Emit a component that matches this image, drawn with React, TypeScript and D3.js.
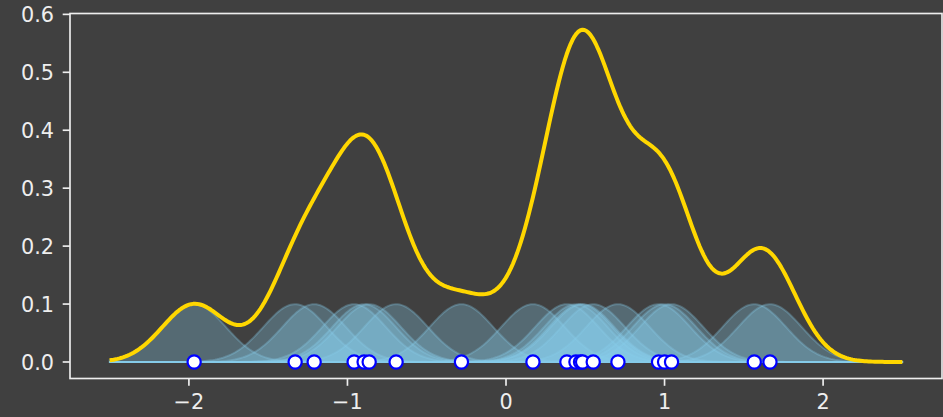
import React from 'react';
import * as d3 from 'd3';

const samples = [
  -1.967, -1.33, -1.21, -0.958, -0.895, -0.863, -0.693, -0.281, 0.17, 0.384,
  0.441, 0.47, 0.483, 0.55, 0.706, 0.962, 1.0, 1.044, 1.566, 1.665,
];
const bandwidth = 0.2;
const gridRange = [-2.5, 2.5];
const xTicks = [-2, -1, 0, 1, 2];
const yTicks = [0, 0.1, 0.2, 0.3, 0.4, 0.5, 0.6];

const W = 943;
const H = 417;
const margin = { top: 13.5, right: 1, bottom: 38.5, left: 70 };
const BG = '#404040';
const FG = '#eeeeee';
const FONT = 'DejaVu Sans, sans-serif';

const App = () => {
  const x = d3
    .scaleLinear()
    .domain([-2.75, 2.75])
    .range([margin.left, W - margin.right]);
  const y = d3
    .scaleLinear()
    .domain([-0.0285, 0.6015])
    .range([H - margin.bottom, margin.top]);

  const n = samples.length;
  const norm = 1 / (n * bandwidth * Math.sqrt(2 * Math.PI));
  const grid = d3.range(400).map(i => gridRange[0] + (i * (gridRange[1] - gridRange[0])) / 399);
  const kernel = (c: number, v: number) => norm * Math.exp(-((v - c) ** 2) / (2 * bandwidth * bandwidth));

  const area = d3
    .area<[number, number]>()
    .x(d => x(d[0]))
    .y0(y(0))
    .y1(d => y(d[1]));
  const line = d3
    .line<[number, number]>()
    .x(d => x(d[0]))
    .y(d => y(d[1]));

  const kde: [number, number][] = grid.map(g => [g, d3.sum(samples, s => kernel(s, g))]);

  const left = margin.left;
  const right = W - margin.right;
  const top = margin.top;
  const bottom = H - margin.bottom;
  const tickLen = 7.3;
  const sw = 1.67;
  const fmtX = (v: number) => (v < 0 ? '\u2212' + Math.abs(v) : String(v));

  return (
    <svg
      width={W}
      height={H}
      style={{ position: 'absolute', left: 0, top: 0, display: 'block' }}
      fontFamily={FONT}
    >
      <rect width={W} height={H} fill={BG} />

      {/* individual kernels */}
      {samples.map((s, i) => {
        const pts: [number, number][] = grid.map(g => [g, kernel(s, g)]);
        const d = area(pts) || '';
        return (
          <g key={'k' + i}>
            <path d={d} fill="#87ceeb" fillOpacity={0.3} stroke="none" />
            <path d={d} fill="none" stroke="#87ceeb" strokeOpacity={0.3} strokeWidth={2} />
          </g>
        );
      })}

      {/* KDE */}
      <path d={line(kde) || ''} fill="none" stroke="#ffd700" strokeWidth={4} strokeLinejoin="round" />

      {/* samples */}
      {samples.map((s, i) => (
        <circle key={'p' + i} cx={x(s)} cy={y(0)} r={6.6} fill="white" stroke="#0000ff" strokeWidth={2.2} />
      ))}

      {/* spines */}
      <rect x={left} y={top} width={right - left} height={bottom - top} fill="none" stroke={FG} strokeWidth={sw} />

      {/* y axis */}
      {yTicks.map(t => (
        <g key={'y' + t}>
          <line x1={left - tickLen} x2={left} y1={y(t)} y2={y(t)} stroke={FG} strokeWidth={sw} />
          <text x={left - tickLen - 8.7} y={y(t) + 7.6} fill={FG} fontSize={20.8} textAnchor="end">
            {t.toFixed(1)}
          </text>
        </g>
      ))}

      {/* x axis */}
      {xTicks.map(t => (
        <g key={'x' + t}>
          <line x1={x(t)} x2={x(t)} y1={bottom} y2={bottom + tickLen} stroke={FG} strokeWidth={sw} />
          <text x={x(t)} y={bottom + tickLen + 7.3 + 15.4} fill={FG} fontSize={20.8} textAnchor="middle">
            {fmtX(t)}
          </text>
        </g>
      ))}
    </svg>
  );
};

export default App;
